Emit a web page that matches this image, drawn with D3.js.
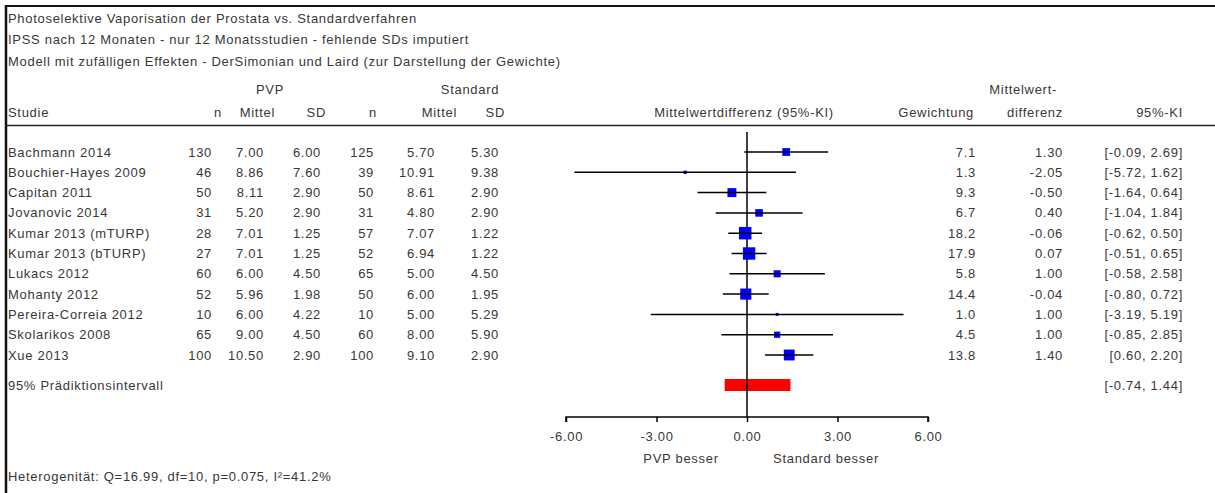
<!DOCTYPE html>
<html>
<head>
<meta charset="utf-8">
<script src="https://cdn.jsdelivr.net/npm/d3@7"></script>
<style>
  html, body { margin: 0; padding: 0; background: #fff; }
  svg { display: block; }
  text { font-family: "Liberation Sans", Arial, sans-serif; font-size: 13px; fill: #383838; letter-spacing: 0.7px; }
</style>
</head>
<body>
<svg id="chart" width="1215" height="493"></svg>
<script>
// Study-level data
const studies = ["Bachmann 2014", "Bouchier-Hayes 2009", "Capitan 2011", "Jovanovic 2014",
  "Kumar 2013 (mTURP)", "Kumar 2013 (bTURP)", "Lukacs 2012", "Mohanty 2012",
  "Pereira-Correia 2012", "Skolarikos 2008", "Xue 2013"];
const nPVP    = [130, 46, 50, 31, 28, 27, 60, 52, 10, 65, 100];
const meanPVP = ["7.00", "8.86", "8.11", "5.20", "7.01", "7.01", "6.00", "5.96", "6.00", "9.00", "10.50"];
const sdPVP   = ["6.00", "7.60", "2.90", "2.90", "1.25", "1.25", "4.50", "1.98", "4.22", "4.50", "2.90"];
const nStd    = [125, 39, 50, 31, 57, 52, 65, 50, 10, 60, 100];
const meanStd = ["5.70", "10.91", "8.61", "4.80", "7.07", "6.94", "5.00", "6.00", "5.00", "8.00", "9.10"];
const sdStd   = ["5.30", "9.38", "2.90", "2.90", "1.22", "1.22", "4.50", "1.95", "5.29", "5.90", "2.90"];
const weights = [7.1, 1.3, 9.3, 6.7, 18.2, 17.9, 5.8, 14.4, 1.0, 4.5, 13.8];
const meanDiff = [1.30, -2.05, -0.50, 0.40, -0.06, 0.07, 1.00, -0.04, 1.00, 1.00, 1.40];
const ciLow   = [-0.09, -5.72, -1.64, -1.04, -0.62, -0.51, -0.58, -0.80, -3.19, -0.85, 0.60];
const ciHigh  = [2.69, 1.62, 0.64, 1.84, 0.50, 0.65, 2.58, 0.72, 5.19, 2.85, 2.20];

// Prediction interval
const predInterval = [-0.74, 1.44];

// Axis
const axisTicks = [-6, -3, 0, 3, 6];
const axisDomain = [-6, 6];

const titleLines = [
  "Photoselektive Vaporisation der Prostata vs. Standardverfahren",
  "IPSS nach 12 Monaten - nur 12 Monatsstudien - fehlende SDs imputiert",
  "Modell mit zufälligen Effekten - DerSimonian und Laird (zur Darstellung der Gewichte)"
];
const heterogeneity = "Heterogenität: Q=16.99, df=10, p=0.075, I²=41.2%";

const svg = d3.select("#chart");
const fmt2 = d => d.toFixed(2);
const fmtCI = (lo, hi) => "[" + fmt2(lo) + ", " + fmt2(hi) + "]";

// Frame: top rule, left rule, header rule
svg.append("line").attr("x1", 5).attr("x2", 1215).attr("y1", 6).attr("y2", 6)
  .attr("stroke", "#111").attr("stroke-width", 2);
svg.append("line").attr("x1", 6).attr("x2", 6).attr("y1", 5).attr("y2", 493)
  .attr("stroke", "#111").attr("stroke-width", 2.5);
svg.append("line").attr("x1", 5).attr("x2", 1215).attr("y1", 125.5).attr("y2", 125.5)
  .attr("stroke", "#222").attr("stroke-width", 1.5);

// Titles
svg.selectAll("text.title").data(titleLines).join("text")
  .attr("class", "title")
  .attr("x", 8).attr("y", (d, i) => 18 + i * 21.7).attr("dy", "0.35em")
  .text(d => d);

// Column headers
const headers = [
  { t: "PVP", x: 270, y: 89, a: "middle" },
  { t: "Standard", x: 470, y: 89, a: "middle" },
  { t: "Studie", x: 8, y: 112, a: "start" },
  { t: "n", x: 222, y: 112, a: "end" },
  { t: "Mittel", x: 275, y: 112, a: "end" },
  { t: "SD", x: 326, y: 112, a: "end" },
  { t: "n", x: 377, y: 112, a: "end" },
  { t: "Mittel", x: 457, y: 112, a: "end" },
  { t: "SD", x: 505, y: 112, a: "end" },
  { t: "Mittelwertdifferenz (95%-KI)", x: 744, y: 112, a: "middle" },
  { t: "Gewichtung", x: 974, y: 112, a: "end" },
  { t: "Mittelwert-", x: 1057, y: 89, a: "end" },
  { t: "differenz", x: 1063, y: 112, a: "end" },
  { t: "95%-KI", x: 1183, y: 112, a: "end" }
];
svg.selectAll("text.hdr").data(headers).join("text")
  .attr("class", "hdr")
  .attr("x", d => d.x).attr("y", d => d.y).attr("dy", "0.35em")
  .attr("text-anchor", d => d.a)
  .text(d => d.t);

// Row positions
const y = d3.scalePoint().domain(d3.range(studies.length)).range([152, 355]);
const predY = 385;

// Forest plot scale
const x = d3.scaleLinear().domain(axisDomain).range([566, 928]);
const size = d3.scaleSqrt().domain([0, d3.max(weights)]).range([0, 12.5]);

// Table columns
const cols = [
  { vals: studies, x: 8, a: "start" },
  { vals: nPVP, x: 212, a: "end" },
  { vals: meanPVP, x: 264, a: "end" },
  { vals: sdPVP, x: 321, a: "end" },
  { vals: nStd, x: 374, a: "end" },
  { vals: meanStd, x: 435, a: "end" },
  { vals: sdStd, x: 499, a: "end" },
  { vals: weights.map(w => w.toFixed(1)), x: 976, a: "end" },
  { vals: meanDiff.map(fmt2), x: 1063, a: "end" },
  { vals: studies.map((s, i) => fmtCI(ciLow[i], ciHigh[i])), x: 1183, a: "end" }
];
cols.forEach(c => {
  svg.append("g").selectAll("text").data(c.vals).join("text")
    .attr("x", c.x).attr("y", (d, i) => y(i)).attr("dy", "0.35em")
    .attr("text-anchor", c.a)
    .text(d => d);
});

// Prediction interval row labels
svg.append("text").attr("x", 8).attr("y", predY).attr("dy", "0.35em")
  .text("95% Prädiktionsintervall");
svg.append("text").attr("x", 1183).attr("y", predY).attr("dy", "0.35em")
  .attr("text-anchor", "end").text(fmtCI(predInterval[0], predInterval[1]));

// Line of no effect
const axisY = 417;
svg.append("line").attr("x1", x(0)).attr("x2", x(0)).attr("y1", 132).attr("y2", axisY)
  .attr("stroke", "#000").attr("stroke-width", 1.5);

// Study squares
svg.append("g").selectAll("rect").data(weights).join("rect")
  .attr("x", (w, i) => x(meanDiff[i]) - size(w) / 2)
  .attr("y", (w, i) => y(i) - size(w) / 2)
  .attr("width", w => size(w)).attr("height", w => size(w))
  .attr("fill", "#0000ff");

// Confidence intervals
svg.append("g").selectAll("line").data(studies).join("line")
  .attr("x1", (d, i) => x(ciLow[i])).attr("x2", (d, i) => x(ciHigh[i]))
  .attr("y1", (d, i) => y(i)).attr("y2", (d, i) => y(i))
  .attr("stroke", "#000").attr("stroke-width", 1.5);

// Prediction interval bar
svg.append("rect")
  .attr("x", x(predInterval[0])).attr("y", predY - 6)
  .attr("width", x(predInterval[1]) - x(predInterval[0])).attr("height", 12)
  .attr("fill", "#ff0000");

// Zero line segment over the bar
svg.append("line").attr("x1", x(0)).attr("x2", x(0)).attr("y1", predY - 6).attr("y2", predY + 6)
  .attr("stroke", "#000").attr("stroke-width", 1.5);

// Bottom axis
const axis = d3.axisBottom(x).tickValues(axisTicks).tickSize(5).tickPadding(10)
  .tickFormat(fmt2);
const ag = svg.append("g").attr("transform", `translate(0,${axisY})`).call(axis);
ag.select(".domain").attr("stroke", "#000").attr("stroke-width", 1.5)
  .attr("d", `M${x(axisDomain[0])},5V0H${x(axisDomain[1])}V5`);
ag.selectAll(".tick line").attr("stroke", "#000").attr("stroke-width", 1.5);
ag.selectAll(".tick text").attr("fill", "#383838")
  .style("font-family", "'Liberation Sans', Arial, sans-serif").style("font-size", "13px");

// Direction labels
svg.append("text").attr("x", 681).attr("y", 458).attr("dy", "0.35em")
  .attr("text-anchor", "middle").text("PVP besser");
svg.append("text").attr("x", 826).attr("y", 458).attr("dy", "0.35em")
  .attr("text-anchor", "middle").text("Standard besser");

// Heterogeneity
svg.append("text").attr("x", 8).attr("y", 476).attr("dy", "0.35em").text(heterogeneity);
</script>
</body>
</html>
